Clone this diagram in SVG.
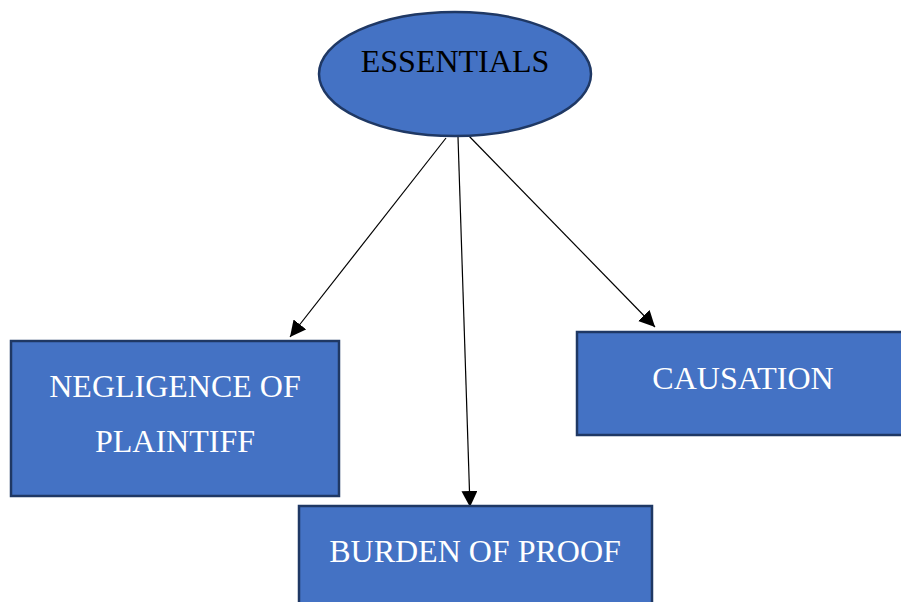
<svg xmlns="http://www.w3.org/2000/svg" width="901" height="602" viewBox="0 0 901 602">
<style>
.node{fill:#4472c4;stroke:#1f3864;stroke-width:2.5}
.lbl{font-family:"Liberation Serif","Times New Roman",serif;font-size:32px;text-anchor:middle;fill:#fff}
.dark{fill:#000}
.conn{stroke:#000;stroke-width:1.2;fill:none;marker-end:url(#ah)}
</style>
<defs>
<marker id="ah" viewBox="0 0 10 10" refX="10" refY="5" markerWidth="16" markerHeight="16" markerUnits="userSpaceOnUse" orient="auto">
<path d="M0,0 L10,5 L0,10 z" fill="#000"/>
</marker>
</defs>
<rect width="901" height="602" fill="#fff"/>
<g id="connectors">
<line class="conn" x1="446" y1="138" x2="290" y2="337"/>
<line class="conn" x1="458" y1="137" x2="470" y2="507"/>
<line class="conn" x1="467" y1="134" x2="655" y2="327"/>
</g>
<g id="essentials">
<ellipse class="node" cx="455" cy="74" rx="136" ry="62"/>
<text class="lbl dark" x="455" y="72">ESSENTIALS</text>
</g>
<g id="negligence">
<rect class="node" x="11" y="341" width="328" height="155"/>
<text class="lbl" x="175" y="397">NEGLIGENCE OF</text>
<text class="lbl" x="175" y="452">PLAINTIFF</text>
</g>
<g id="causation">
<rect class="node" x="577" y="332" width="330" height="103"/>
<text class="lbl" x="743" y="389">CAUSATION</text>
</g>
<g id="burden">
<rect class="node" x="299" y="506" width="353" height="110"/>
<text class="lbl" x="475" y="562">BURDEN OF PROOF</text>
</g>
</svg>
